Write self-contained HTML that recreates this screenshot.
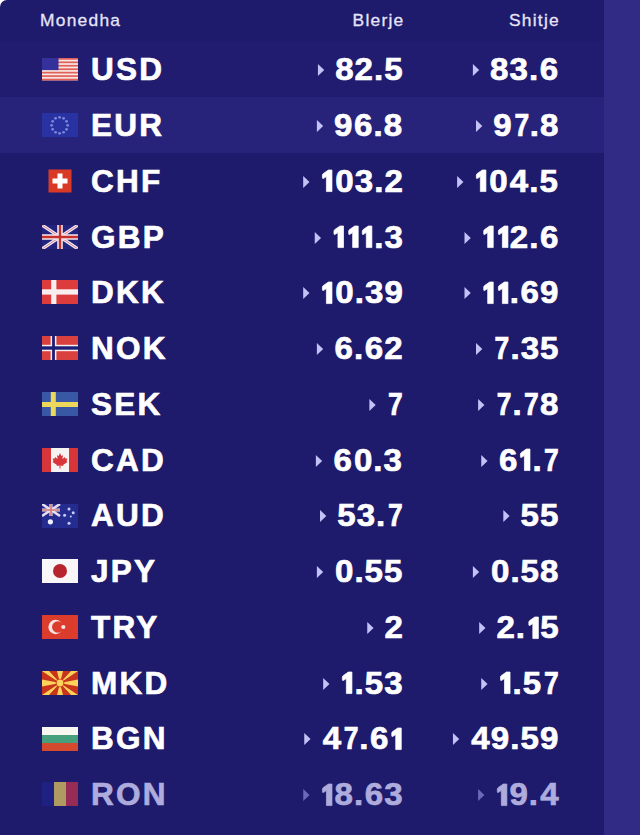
<!DOCTYPE html>
<html><head><meta charset="utf-8"><style>
html,body{margin:0;padding:0;background:#fff;width:640px;height:835px;overflow:hidden}
body{position:relative;font-family:"Liberation Sans",sans-serif}
.strip{position:absolute;left:604px;top:0;width:36px;height:835px;background:#322b85}
.panel{position:absolute;left:0;top:0;width:604px;height:835px;background:#1e1a6c;border-top-left-radius:7px;overflow:hidden}
.hd{position:absolute;top:0;height:41px;line-height:38px;font-size:17.4px;color:#e6e4f8;letter-spacing:1.25px;-webkit-text-stroke:0.3px #e6e4f8;padding-top:0.5px}
.row{position:absolute;left:0;width:604px;height:55.77px}
.row.hl::before{content:'';position:absolute;left:0;top:0;width:100%;height:56.6px;background:#28237a} .row.hl0{background:#211c70}
.flag{position:absolute;left:42px;top:50%;margin-top:-11.4px}
.code{position:absolute;left:91px;top:1px;height:100%;display:flex;align-items:center;font-weight:bold;font-size:31.5px;letter-spacing:2.2px;color:#fff;-webkit-text-stroke-width:0.7px}
.num{position:absolute;top:1px;height:100%;display:flex;align-items:center;justify-content:flex-end;font-weight:bold;font-size:31.5px;letter-spacing:1px;color:#fff;-webkit-text-stroke-width:0.7px;transform:scaleX(1.05);transform-origin:100% 50%}
.b{right:200.5px} .s{right:44.5px}
.tri{display:inline-block;width:0;height:0;border-top:6.2px solid transparent;border-bottom:6.2px solid transparent;border-left:6.4px solid #c2c2f6;margin-right:10.4px;position:relative;top:0.5px}
.fade .code,.fade .num{color:#aeacdc} .fade .tri{border-left-color:#6c6ab8} .fade .flag{opacity:0.78}
.one{vertical-align:baseline;display:inline-block;overflow:visible}
.sev{display:inline-block;margin-left:-2.2px;transform:scaleX(0.8);transform-origin:100% 50%}
</style></head><body>
<div class="strip"></div>
<div class="panel">
<div class="hd" style="left:40px">Monedha</div>
<div class="hd" style="right:199.5px">Blerje</div>
<div class="hd" style="right:44px">Shitje</div>
<div class="row hl0" style="top:40.86px"><svg class="flag" width="36" height="24" viewBox="0 0 36 24"><rect y="1" width="36" height="22.4" fill="#f6e6e2"/><rect y="1.00" width="36" height="1.72" fill="#e2605a"/><rect y="4.45" width="36" height="1.72" fill="#e2605a"/><rect y="7.89" width="36" height="1.72" fill="#e2605a"/><rect y="11.34" width="36" height="1.72" fill="#e2605a"/><rect y="14.78" width="36" height="1.72" fill="#e2605a"/><rect y="18.23" width="36" height="1.72" fill="#e2605a"/><rect y="21.68" width="36" height="1.72" fill="#e2605a"/><rect y="1" width="16.5" height="12.1" fill="#34319c"/></svg><div class="code">USD</div><div class="num b"><i class="tri"></i>82.5</div><div class="num s"><i class="tri"></i>83.<span style="margin-left:0.5px">6</span></div></div>
<div class="row hl" style="top:96.63px"><svg class="flag" width="36" height="24" viewBox="0 0 36 24"><rect width="36" height="24" fill="#2832a2"/><circle cx="25.60" cy="12.30" r="1.35" fill="#7e88da"/><circle cx="24.53" cy="16.30" r="1.35" fill="#7e88da"/><circle cx="21.60" cy="19.23" r="1.35" fill="#7e88da"/><circle cx="17.60" cy="20.30" r="1.35" fill="#7e88da"/><circle cx="13.60" cy="19.23" r="1.35" fill="#7e88da"/><circle cx="10.67" cy="16.30" r="1.35" fill="#7e88da"/><circle cx="9.60" cy="12.30" r="1.35" fill="#7e88da"/><circle cx="10.67" cy="8.30" r="1.35" fill="#7e88da"/><circle cx="13.60" cy="5.37" r="1.35" fill="#7e88da"/><circle cx="17.60" cy="4.30" r="1.35" fill="#7e88da"/><circle cx="21.60" cy="5.37" r="1.35" fill="#7e88da"/><circle cx="24.53" cy="8.30" r="1.35" fill="#7e88da"/></svg><div class="code">EUR</div><div class="num b"><i class="tri"></i>9<span style="margin-left:0.5px">6</span>.8</div><div class="num s"><i class="tri"></i>9<span class="sev">7</span>.8</div></div>
<div class="row" style="top:152.40px"><svg class="flag" width="36" height="24" viewBox="0 0 36 24"><rect x="6.5" y="0.5" width="23" height="23" fill="#d93a26"/><rect x="15.5" y="4.5" width="5" height="15" fill="#fff"/><rect x="10.5" y="9.5" width="15" height="5" fill="#fff"/></svg><div class="code">CHF</div><div class="num b"><i class="tri"></i><svg class="one" width="13.4" height="21.6" viewBox="0 0 13.4 21.6"><path d="M11.4,0 L11.4,21.6 L6.1,21.6 L6.1,6.6 L3.5,8.3 Q2.3,9 2.3,7.7 L2.3,5.1 Q2.3,4.1 3.2,3.5 L8,0 Z" fill="currentColor" stroke="currentColor" stroke-width="0.7" overflow="visible"/></svg><span style="margin-left:0.8px">0</span>3.2</div><div class="num s"><i class="tri"></i><svg class="one" width="13.4" height="21.6" viewBox="0 0 13.4 21.6"><path d="M11.4,0 L11.4,21.6 L6.1,21.6 L6.1,6.6 L3.5,8.3 Q2.3,9 2.3,7.7 L2.3,5.1 Q2.3,4.1 3.2,3.5 L8,0 Z" fill="currentColor" stroke="currentColor" stroke-width="0.7" overflow="visible"/></svg><span style="margin-left:0.8px">0</span><span style="margin-left:1.1px">4</span>.5</div></div>
<div class="row" style="top:208.17px"><svg class="flag" width="36" height="24" viewBox="0 0 36 24"><rect width="36" height="24" fill="#22237f"/><path d="M0,0 L36,24 M36,0 L0,24" stroke="#f0e6f2" stroke-width="3.2"/><path d="M0,0 L36,24 M36,0 L0,24" stroke="#d06a70" stroke-width="0.8"/><path d="M18,0 V24 M0,12 H36" stroke="#f4e8ee" stroke-width="5.6"/><path d="M18,0 V24 M0,12 H36" stroke="#c8302e" stroke-width="2.4"/></svg><div class="code">GBP</div><div class="num b"><i class="tri"></i><svg class="one" width="13.4" height="21.6" viewBox="0 0 13.4 21.6"><path d="M11.4,0 L11.4,21.6 L6.1,21.6 L6.1,6.6 L3.5,8.3 Q2.3,9 2.3,7.7 L2.3,5.1 Q2.3,4.1 3.2,3.5 L8,0 Z" fill="currentColor" stroke="currentColor" stroke-width="0.7" overflow="visible"/></svg><svg class="one" width="13.4" height="21.6" viewBox="0 0 13.4 21.6"><path d="M11.4,0 L11.4,21.6 L6.1,21.6 L6.1,6.6 L3.5,8.3 Q2.3,9 2.3,7.7 L2.3,5.1 Q2.3,4.1 3.2,3.5 L8,0 Z" fill="currentColor" stroke="currentColor" stroke-width="0.7" overflow="visible"/></svg><svg class="one" width="13.4" height="21.6" viewBox="0 0 13.4 21.6"><path d="M11.4,0 L11.4,21.6 L6.1,21.6 L6.1,6.6 L3.5,8.3 Q2.3,9 2.3,7.7 L2.3,5.1 Q2.3,4.1 3.2,3.5 L8,0 Z" fill="currentColor" stroke="currentColor" stroke-width="0.7" overflow="visible"/></svg>.3</div><div class="num s"><i class="tri"></i><svg class="one" width="13.4" height="21.6" viewBox="0 0 13.4 21.6"><path d="M11.4,0 L11.4,21.6 L6.1,21.6 L6.1,6.6 L3.5,8.3 Q2.3,9 2.3,7.7 L2.3,5.1 Q2.3,4.1 3.2,3.5 L8,0 Z" fill="currentColor" stroke="currentColor" stroke-width="0.7" overflow="visible"/></svg><svg class="one" width="13.4" height="21.6" viewBox="0 0 13.4 21.6"><path d="M11.4,0 L11.4,21.6 L6.1,21.6 L6.1,6.6 L3.5,8.3 Q2.3,9 2.3,7.7 L2.3,5.1 Q2.3,4.1 3.2,3.5 L8,0 Z" fill="currentColor" stroke="currentColor" stroke-width="0.7" overflow="visible"/></svg>2.<span style="margin-left:0.5px">6</span></div></div>
<div class="row" style="top:263.94px"><svg class="flag" width="36" height="24" viewBox="0 0 36 24"><rect width="36" height="24" fill="#dc3c3c"/><rect x="9.2" width="5.2" height="24" fill="#f8eeee"/><rect y="9.3" width="36" height="5.3" fill="#f8eeee"/></svg><div class="code">DKK</div><div class="num b"><i class="tri"></i><svg class="one" width="13.4" height="21.6" viewBox="0 0 13.4 21.6"><path d="M11.4,0 L11.4,21.6 L6.1,21.6 L6.1,6.6 L3.5,8.3 Q2.3,9 2.3,7.7 L2.3,5.1 Q2.3,4.1 3.2,3.5 L8,0 Z" fill="currentColor" stroke="currentColor" stroke-width="0.7" overflow="visible"/></svg><span style="margin-left:0.8px">0</span>.39</div><div class="num s"><i class="tri"></i><svg class="one" width="13.4" height="21.6" viewBox="0 0 13.4 21.6"><path d="M11.4,0 L11.4,21.6 L6.1,21.6 L6.1,6.6 L3.5,8.3 Q2.3,9 2.3,7.7 L2.3,5.1 Q2.3,4.1 3.2,3.5 L8,0 Z" fill="currentColor" stroke="currentColor" stroke-width="0.7" overflow="visible"/></svg><svg class="one" width="13.4" height="21.6" viewBox="0 0 13.4 21.6"><path d="M11.4,0 L11.4,21.6 L6.1,21.6 L6.1,6.6 L3.5,8.3 Q2.3,9 2.3,7.7 L2.3,5.1 Q2.3,4.1 3.2,3.5 L8,0 Z" fill="currentColor" stroke="currentColor" stroke-width="0.7" overflow="visible"/></svg>.<span style="margin-left:0.5px">6</span>9</div></div>
<div class="row" style="top:319.71px"><svg class="flag" width="36" height="24" viewBox="0 0 36 24"><rect width="36" height="24" fill="#d9403e"/><rect x="8.6" width="5.8" height="24" fill="#f6eeee"/><rect y="8.8" width="36" height="6.4" fill="#f6eeee"/><rect x="10.1" width="2.8" height="24" fill="#1c1e76"/><rect y="10.3" width="36" height="3.4" fill="#1c1e76"/></svg><div class="code">NOK</div><div class="num b"><i class="tri"></i><span style="margin-left:0.5px">6</span>.<span style="margin-left:0.5px">6</span>2</div><div class="num s"><i class="tri"></i><span class="sev">7</span>.35</div></div>
<div class="row" style="top:375.48px"><svg class="flag" width="36" height="24" viewBox="0 0 36 24"><rect width="36" height="24" fill="#3858a6"/><rect x="8.8" width="5" height="24" fill="#eed85c"/><rect y="10" width="36" height="5" fill="#eed85c"/></svg><div class="code">SEK</div><div class="num b"><i class="tri"></i><span class="sev">7</span></div><div class="num s"><i class="tri"></i><span class="sev">7</span>.<span class="sev">7</span>8</div></div>
<div class="row" style="top:431.25px"><svg class="flag" width="36" height="24" viewBox="0 0 36 24"><rect width="36" height="24" fill="#f6f2f2"/><rect width="9" height="24" fill="#d8353a"/><rect x="27" width="9" height="24" fill="#d8353a"/><path d="M18,5 L19.3,8 L21,7.2 L20.4,11 L23,9 L23.5,10.8 L25.5,10.5 L24.5,13 L25.5,14 L21,17 L21.5,18 L18.5,17.6 L18.5,20.5 L17.5,20.5 L17.5,17.6 L14.5,18 L15,17 L10.5,14 L11.5,13 L10.5,10.5 L12.5,10.8 L13,9 L15.6,11 L15,7.2 L16.7,8 Z" fill="#d8353a"/></svg><div class="code">CAD</div><div class="num b"><i class="tri"></i><span style="margin-left:0.5px">6</span><span style="margin-left:0.8px">0</span>.3</div><div class="num s"><i class="tri"></i><span style="margin-left:0.5px">6</span><svg class="one" width="13.4" height="21.6" viewBox="0 0 13.4 21.6"><path d="M11.4,0 L11.4,21.6 L6.1,21.6 L6.1,6.6 L3.5,8.3 Q2.3,9 2.3,7.7 L2.3,5.1 Q2.3,4.1 3.2,3.5 L8,0 Z" fill="currentColor" stroke="currentColor" stroke-width="0.7" overflow="visible"/></svg>.<span class="sev">7</span></div></div>
<div class="row" style="top:487.02px"><svg class="flag" width="36" height="24" viewBox="0 0 36 24"><rect width="36" height="24" fill="#252c90"/><g><path d="M0,0 L18,12 M18,0 L0,12" stroke="#eadcf0" stroke-width="2.6"/><path d="M9,0 V12 M0,6 H18" stroke="#eedfe8" stroke-width="3.2"/><path d="M9,0 V12 M0,6 H18" stroke="#d07a78" stroke-width="1.6"/></g><circle cx="8.4" cy="17.8" r="2.6" fill="#f0f0ff"/><circle cx="27" cy="5" r="1.5" fill="#c8ccf8"/><circle cx="31.2" cy="8.8" r="1.5" fill="#c8ccf8"/><circle cx="22.6" cy="11.2" r="1.5" fill="#c8ccf8"/><circle cx="28.8" cy="12.6" r="1.0" fill="#c8ccf8"/><circle cx="27" cy="19.2" r="1.5" fill="#c8ccf8"/></svg><div class="code">AUD</div><div class="num b"><i class="tri"></i>53.<span class="sev">7</span></div><div class="num s"><i class="tri"></i>55</div></div>
<div class="row" style="top:542.79px"><svg class="flag" width="36" height="24" viewBox="0 0 36 24"><rect width="36" height="24" fill="#f8f6f6"/><circle cx="18" cy="12" r="7" fill="#b8242e"/></svg><div class="code">JPY</div><div class="num b"><i class="tri"></i><span style="margin-left:0.8px">0</span>.55</div><div class="num s"><i class="tri"></i><span style="margin-left:0.8px">0</span>.58</div></div>
<div class="row" style="top:598.56px"><svg class="flag" width="36" height="24" viewBox="0 0 36 24"><rect width="36" height="24" fill="#dc3c2c"/><circle cx="13.6" cy="12" r="7.2" fill="#f8e4e4"/><circle cx="15.8" cy="12" r="5.8" fill="#dc3c2c"/><circle cx="21.3" cy="12" r="2.1" fill="#f8e4e4"/></svg><div class="code">TRY</div><div class="num b"><i class="tri"></i>2</div><div class="num s"><i class="tri"></i>2.<svg class="one" width="13.4" height="21.6" viewBox="0 0 13.4 21.6"><path d="M11.4,0 L11.4,21.6 L6.1,21.6 L6.1,6.6 L3.5,8.3 Q2.3,9 2.3,7.7 L2.3,5.1 Q2.3,4.1 3.2,3.5 L8,0 Z" fill="currentColor" stroke="currentColor" stroke-width="0.7" overflow="visible"/></svg>5</div></div>
<div class="row" style="top:654.33px"><svg class="flag" width="36" height="24" viewBox="0 0 36 24"><rect width="36" height="24" fill="#c8341c"/><path d="M0,0 L7,0 L18,12 Z M36,0 L29,0 L18,12 Z M0,24 L7,24 L18,12 Z M36,24 L29,24 L18,12 Z M15,0 L21,0 L18,12 Z M15,24 L21,24 L18,12 Z M0,8.5 L0,15.5 L18,12 Z M36,8.5 L36,15.5 L18,12 Z" fill="#fcd25a"/><circle cx="18" cy="12" r="4.3" fill="#c8341c"/><circle cx="18" cy="12" r="3.4" fill="#fcd25a"/></svg><div class="code">MKD</div><div class="num b"><i class="tri"></i><svg class="one" width="13.4" height="21.6" viewBox="0 0 13.4 21.6"><path d="M11.4,0 L11.4,21.6 L6.1,21.6 L6.1,6.6 L3.5,8.3 Q2.3,9 2.3,7.7 L2.3,5.1 Q2.3,4.1 3.2,3.5 L8,0 Z" fill="currentColor" stroke="currentColor" stroke-width="0.7" overflow="visible"/></svg>.53</div><div class="num s"><i class="tri"></i><svg class="one" width="13.4" height="21.6" viewBox="0 0 13.4 21.6"><path d="M11.4,0 L11.4,21.6 L6.1,21.6 L6.1,6.6 L3.5,8.3 Q2.3,9 2.3,7.7 L2.3,5.1 Q2.3,4.1 3.2,3.5 L8,0 Z" fill="currentColor" stroke="currentColor" stroke-width="0.7" overflow="visible"/></svg>.5<span class="sev">7</span></div></div>
<div class="row" style="top:710.10px"><svg class="flag" width="36" height="24" viewBox="0 0 36 24"><rect width="36" height="8" fill="#f8f6f0"/><rect y="8" width="36" height="8" fill="#46a07e"/><rect y="16" width="36" height="8" fill="#d44a2e"/></svg><div class="code">BGN</div><div class="num b"><i class="tri"></i><span style="margin-left:1.1px">4</span><span class="sev">7</span>.<span style="margin-left:0.5px">6</span><svg class="one" width="13.4" height="21.6" viewBox="0 0 13.4 21.6"><path d="M11.4,0 L11.4,21.6 L6.1,21.6 L6.1,6.6 L3.5,8.3 Q2.3,9 2.3,7.7 L2.3,5.1 Q2.3,4.1 3.2,3.5 L8,0 Z" fill="currentColor" stroke="currentColor" stroke-width="0.7" overflow="visible"/></svg></div><div class="num s"><i class="tri"></i><span style="margin-left:1.1px">4</span>9.59</div></div>
<div class="row fade" style="top:765.87px"><svg class="flag" width="36" height="24" viewBox="0 0 36 24"><rect width="12" height="24" fill="#1f2488"/><rect x="12" width="12" height="24" fill="#d8c060"/><rect x="24" width="12" height="24" fill="#b83050"/></svg><div class="code">RON</div><div class="num b"><i class="tri"></i><svg class="one" width="13.4" height="21.6" viewBox="0 0 13.4 21.6"><path d="M11.4,0 L11.4,21.6 L6.1,21.6 L6.1,6.6 L3.5,8.3 Q2.3,9 2.3,7.7 L2.3,5.1 Q2.3,4.1 3.2,3.5 L8,0 Z" fill="currentColor" stroke="currentColor" stroke-width="0.7" overflow="visible"/></svg>8.<span style="margin-left:0.5px">6</span>3</div><div class="num s"><i class="tri"></i><svg class="one" width="13.4" height="21.6" viewBox="0 0 13.4 21.6"><path d="M11.4,0 L11.4,21.6 L6.1,21.6 L6.1,6.6 L3.5,8.3 Q2.3,9 2.3,7.7 L2.3,5.1 Q2.3,4.1 3.2,3.5 L8,0 Z" fill="currentColor" stroke="currentColor" stroke-width="0.7" overflow="visible"/></svg>9.<span style="margin-left:1.1px">4</span></div></div>
</div>
</body></html>
